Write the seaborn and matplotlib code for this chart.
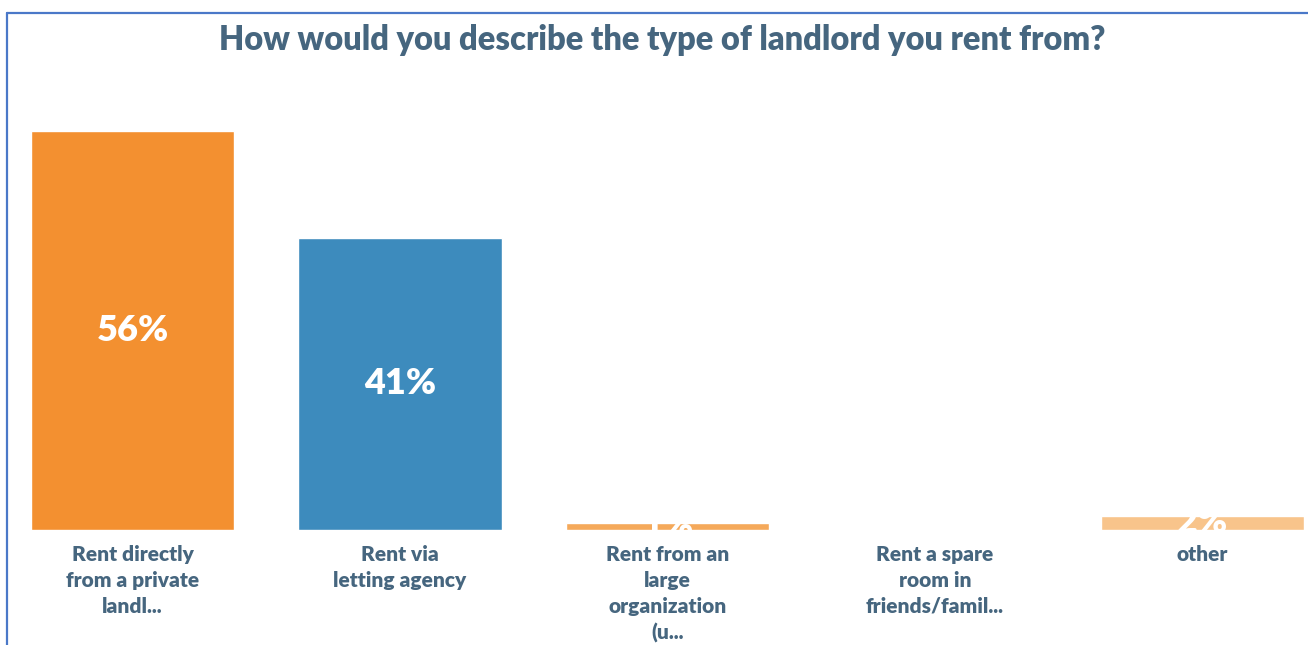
import matplotlib
matplotlib.use("Agg")
import matplotlib.pyplot as plt
from matplotlib.lines import Line2D
import seaborn as sns
import pandas as pd

# Survey responses
categories = [
    "Rent directly\nfrom a private\nlandl...",
    "Rent via\nletting agency",
    "Rent from an\nlarge\norganization\n(u...",
    "Rent a spare\nroom in\nfriends/famil...",
    "other",
]
values = [56, 41, 1, 0, 2]
value_labels = ["56%", "41%", "1%", "0%", "2%"]
bar_colors = ["#F39030", "#3D8BBD", "#F5A95A", "#F7B977", "#F8C48B"]

title = "How would you describe the type of landlord you rent from?"
text_color = "#46667F"
frame_color = "#4A78C8"

sns.set_theme(style="white")
plt.rcParams["font.family"] = ["Lato", "DejaVu Sans"]

W, H = 1308, 645
fig = plt.figure(figsize=(W / 100, H / 100), dpi=100)
fig.patch.set_facecolor("white")

# axes placed so the bars span the plotting width
left, right, top, bottom = 31, 1304, 131, 530
ax = fig.add_axes([left / W, 1 - bottom / H, (right - left) / W, (bottom - top) / H])

df = pd.DataFrame({"category": categories, "value": values})
sns.barplot(
    data=df, x="category", y="value", hue="category",
    palette=bar_colors, width=0.76, legend=False, ax=ax, saturation=1,
)
ax.set_xlim(-0.38, 4.38)
ax.set_ylim(0, 56)
ax.set_xlabel("")
ax.set_ylabel("")
ax.set_yticks([])
for s in ax.spines.values():
    s.set_visible(False)
ax.set_facecolor("none")

ax.tick_params(axis="x", length=0, pad=11)
for lbl in ax.get_xticklabels():
    lbl.set_color(text_color)
    lbl.set_fontweight("heavy")
    lbl.set_fontsize(15)
    lbl.set_linespacing(1.42)
    lbl.set_verticalalignment("top")

# value labels centred in each bar
for patch, v, txt in zip(ax.patches, values, value_labels):
    if v == 0:
        continue
    ax.text(
        patch.get_x() + patch.get_width() / 2, v / 2, txt,
        ha="center", va="center", color="white", fontsize=26,
        fontweight="heavy", clip_on=False,
    )

fig.text(662 / W, 1 - 40 / H, title, ha="center", va="center",
         color=text_color, fontsize=23.5, fontweight="heavy")

# frame lines along the top and left edge
fig.add_artist(Line2D([7 / W, 7 / W], [0, 1 - 13 / H], color=frame_color, lw=1.6,
                      transform=fig.transFigure))
fig.add_artist(Line2D([7 / W, 1], [1 - 13 / H, 1 - 13 / H], color=frame_color, lw=1.6,
                      transform=fig.transFigure))

fig.savefig("out.png", dpi=100, facecolor="white")
